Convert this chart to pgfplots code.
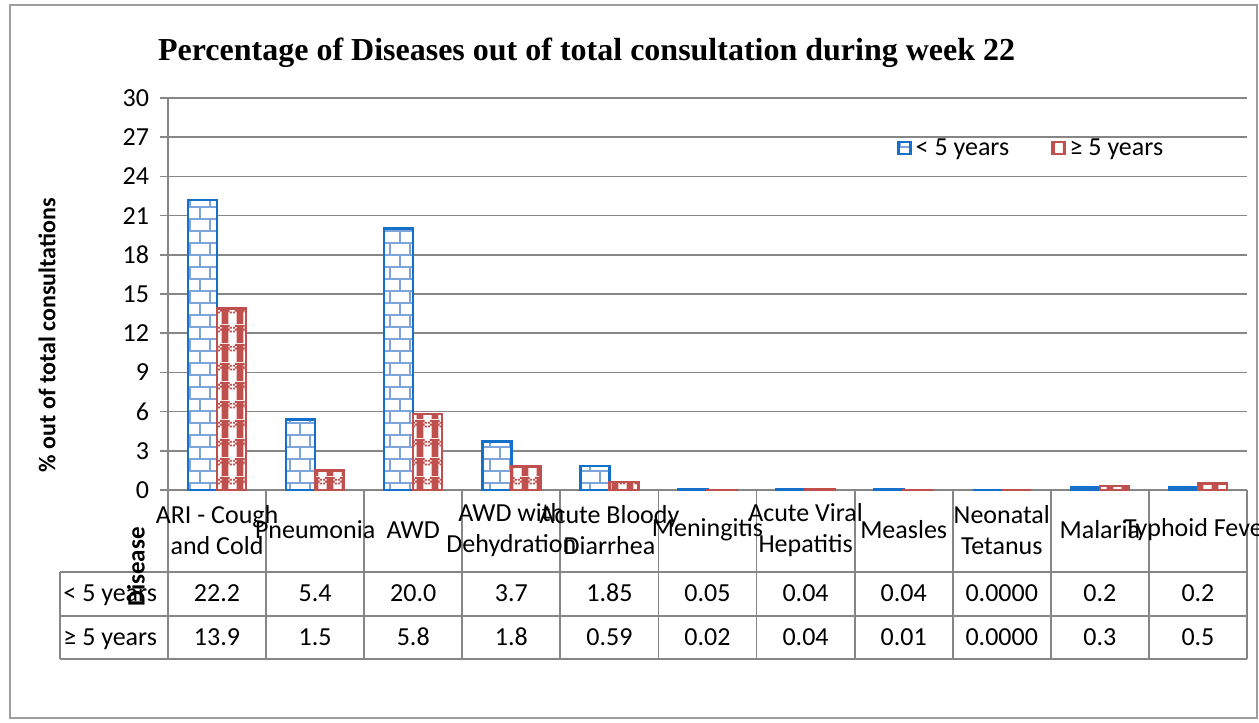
\documentclass[border=0pt]{standalone}
\usepackage{fontspec}
\setmainfont{Carlito}
\newfontfamily\titlefont{Liberation Serif}
\usepackage{pgfplots}
\pgfplotsset{compat=1.18}
\usetikzlibrary{patterns}

\definecolor{gridgray}{RGB}{134,134,134}
\definecolor{bblue}{RGB}{20,112,200}
\definecolor{bmortar}{RGB}{125,165,220}
\definecolor{rred}{RGB}{192,80,77}

\pgfdeclarepatternformonly{mybricks}{\pgfpoint{-0.6pt}{-0.6pt}}{\pgfpoint{10.6pt}{12.6pt}}{\pgfpoint{10pt}{12pt}}{%
  \pgfsetlinewidth{1.1pt}%
  \pgfpathmoveto{\pgfpoint{0pt}{0pt}}\pgfpathlineto{\pgfpoint{10pt}{0pt}}%
  \pgfpathmoveto{\pgfpoint{0pt}{6pt}}\pgfpathlineto{\pgfpoint{10pt}{6pt}}%
  \pgfpathmoveto{\pgfpoint{0pt}{0pt}}\pgfpathlineto{\pgfpoint{0pt}{6pt}}%
  \pgfpathmoveto{\pgfpoint{5pt}{6pt}}\pgfpathlineto{\pgfpoint{5pt}{12pt}}%
  \pgfusepath{stroke}%
}
\pgfdeclarepatternformonly{myweave}{\pgfpointorigin}{\pgfpoint{7.25pt}{9.5pt}}{\pgfpoint{7.25pt}{9.5pt}}{%
  \pgfpathrectangle{\pgfpoint{1.9pt}{0pt}}{\pgfpoint{3.5pt}{9.5pt}}%
  \pgfpathrectangle{\pgfpoint{0pt}{5.5pt}}{\pgfpoint{1pt}{1pt}}%
  \pgfpathrectangle{\pgfpoint{2pt}{5.5pt}}{\pgfpoint{1pt}{1pt}}%
  \pgfpathrectangle{\pgfpoint{4pt}{5.5pt}}{\pgfpoint{1pt}{1pt}}%
  \pgfpathrectangle{\pgfpoint{6pt}{5.5pt}}{\pgfpoint{1.25pt}{1pt}}%
  \pgfpathrectangle{\pgfpoint{1pt}{6.5pt}}{\pgfpoint{1pt}{1pt}}%
  \pgfpathrectangle{\pgfpoint{3pt}{6.5pt}}{\pgfpoint{1pt}{1pt}}%
  \pgfpathrectangle{\pgfpoint{5pt}{6.5pt}}{\pgfpoint{1pt}{1pt}}%
  \pgfpathrectangle{\pgfpoint{0pt}{7.5pt}}{\pgfpoint{1pt}{1pt}}%
  \pgfpathrectangle{\pgfpoint{2pt}{7.5pt}}{\pgfpoint{1pt}{1pt}}%
  \pgfpathrectangle{\pgfpoint{4pt}{7.5pt}}{\pgfpoint{1pt}{1pt}}%
  \pgfpathrectangle{\pgfpoint{6pt}{7.5pt}}{\pgfpoint{1.25pt}{1pt}}%
  \pgfpathrectangle{\pgfpoint{1pt}{8.5pt}}{\pgfpoint{1pt}{1pt}}%
  \pgfpathrectangle{\pgfpoint{3pt}{8.5pt}}{\pgfpoint{1pt}{1pt}}%
  \pgfpathrectangle{\pgfpoint{5pt}{8.5pt}}{\pgfpoint{1pt}{1pt}}%
  \pgfusepath{fill}%
}

\begin{document}
\begin{tikzpicture}
\useasboundingbox (0,0) rectangle (629.5pt,361.5pt);
\draw[gridgray!80, line width=1pt] (5pt,2.5pt) rectangle (628.5pt,359pt);
\begin{axis}[
  at={(84pt,116.5pt)}, anchor=south west,
  scale only axis, width=539.5pt, height=196pt,
  xmin=-0.5, xmax=10.5, ymin=0, ymax=30,
  enlargelimits=false, clip=false,
  axis x line=bottom, axis y line=left,
  axis line style={-, gridgray, line width=0.9pt},
  xtick=\empty,
  ytick={0,3,...,30},
  ymajorgrids, grid style={gridgray, line width=0.8pt},
  tick align=outside, major tick length=4pt,
  tick style={gridgray, line width=0.8pt},
  /pgf/number format/assume math mode=true,
  tick label style={font=\fontsize{13}{15}\selectfont},
  yticklabel style={xshift=-2pt},
  ylabel={\bfseries \% out of total consultations},
  ylabel style={at={(axis description cs:-0.112,0.395)}, anchor=center, rotate=0, font=\fontsize{12}{14}\selectfont},
  title={\titlefont\bfseries Percentage of Diseases out of total consultation during week 22},
  title style={at={(axis description cs:0.388,1.084)}, anchor=center, font=\fontsize{16}{18}\selectfont},
  ybar=0pt, bar width=14.5pt,
  legend style={draw=none, fill=none, at={(axis description cs:0.670,0.872)}, anchor=west,
    font=\fontsize{13}{15}\selectfont, /tikz/every even column/.append style={column sep=19pt}},
  legend columns=2,
  legend image code/.code={\draw[#1] (0pt,-3pt) rectangle (6pt,3pt);},
]
\addplot[draw=bblue, line width=1.2pt, fill=white, postaction={pattern=mybricks, pattern color=bmortar}]
  coordinates {(0,22.2) (1,5.4) (2,20.0) (3,3.7) (4,1.85) (5,0.05) (6,0.04) (7,0.04) (8,0.0) (9,0.2) (10,0.2)};
\addplot[draw=rred, line width=1.2pt, fill=white, postaction={pattern=myweave, pattern color=rred}]
  coordinates {(0,13.9) (1,1.5) (2,5.8) (3,1.8) (4,0.59) (5,0.02) (6,0.04) (7,0.01) (8,0.0) (9,0.3) (10,0.5)};
\legend{< 5 years, ≥ 5 years}

% data table
\draw[gridgray, line width=0.9pt]
  (axis cs:-1.601,-6.276) -- (axis cs:10.5,-6.276)
  (axis cs:-1.601,-9.643) -- (axis cs:10.5,-9.643)
  (axis cs:-1.601,-12.934) -- (axis cs:10.5,-12.934)
  (axis cs:-1.601,-6.276) -- (axis cs:-1.601,-12.934)
  (axis cs:-0.5,0) -- (axis cs:-0.5,-12.934)
  (axis cs:0.5,0) -- (axis cs:0.5,-12.934)
  (axis cs:1.5,0) -- (axis cs:1.5,-12.934)
  (axis cs:2.5,0) -- (axis cs:2.5,-12.934)
  (axis cs:3.5,0) -- (axis cs:3.5,-12.934)
  (axis cs:4.5,0) -- (axis cs:4.5,-12.934)
  (axis cs:5.5,0) -- (axis cs:5.5,-12.934)
  (axis cs:6.5,0) -- (axis cs:6.5,-12.934)
  (axis cs:7.5,0) -- (axis cs:7.5,-12.934)
  (axis cs:8.5,0) -- (axis cs:8.5,-12.934)
  (axis cs:9.5,0) -- (axis cs:9.5,-12.934)
  (axis cs:10.5,0) -- (axis cs:10.5,-12.934);
\begin{scope}[every node/.style={font=\fontsize{13}{15.5}\selectfont, align=center, inner sep=0pt}]
\node at (axis cs:0,-3.06) {ARI - Cough\\and Cold};
\node at (axis cs:1,-3.06) {Pneumonia};
\node at (axis cs:2,-3.06) {AWD};
\node at (axis cs:3,-3.06) {AWD with\\Dehydration};
\node at (axis cs:4,-3.06) {Acute Bloody\\Diarrhea};
\node at (axis cs:5,-3.06) {Meningitis};
\node at (axis cs:6,-3.06) {Acute Viral\\Hepatitis};
\node at (axis cs:7,-3.06) {Measles};
\node at (axis cs:8,-3.06) {Neonatal\\Tetanus};
\node at (axis cs:9,-3.06) {Malaria};
\node at (axis cs:10,-3.06) {Typhoid Fever};
\node[rotate=90, font=\fontsize{12.5}{14}\selectfont\bfseries] at (axis cs:-0.826,-5.89) {Disease};
\end{scope}
\begin{scope}[every node/.style={font=\fontsize{13}{15.5}\selectfont, inner sep=0pt, text height=6.4pt, text depth=2.2pt}]
\node[anchor=west] at (axis cs:-1.57,-8.25) {< 5 years};
\node[anchor=west] at (axis cs:-1.57,-11.58) {≥ 5 years};
\node at (axis cs:0,-8.25) {22.2};
\node at (axis cs:1,-8.25) {5.4};
\node at (axis cs:2,-8.25) {20.0};
\node at (axis cs:3,-8.25) {3.7};
\node at (axis cs:4,-8.25) {1.85};
\node at (axis cs:5,-8.25) {0.05};
\node at (axis cs:6,-8.25) {0.04};
\node at (axis cs:7,-8.25) {0.04};
\node at (axis cs:8,-8.25) {0.0000};
\node at (axis cs:9,-8.25) {0.2};
\node at (axis cs:10,-8.25) {0.2};
\node at (axis cs:0,-11.58) {13.9};
\node at (axis cs:1,-11.58) {1.5};
\node at (axis cs:2,-11.58) {5.8};
\node at (axis cs:3,-11.58) {1.8};
\node at (axis cs:4,-11.58) {0.59};
\node at (axis cs:5,-11.58) {0.02};
\node at (axis cs:6,-11.58) {0.04};
\node at (axis cs:7,-11.58) {0.01};
\node at (axis cs:8,-11.58) {0.0000};
\node at (axis cs:9,-11.58) {0.3};
\node at (axis cs:10,-11.58) {0.5};
\end{scope}
\end{axis}
\end{tikzpicture}
\end{document}
